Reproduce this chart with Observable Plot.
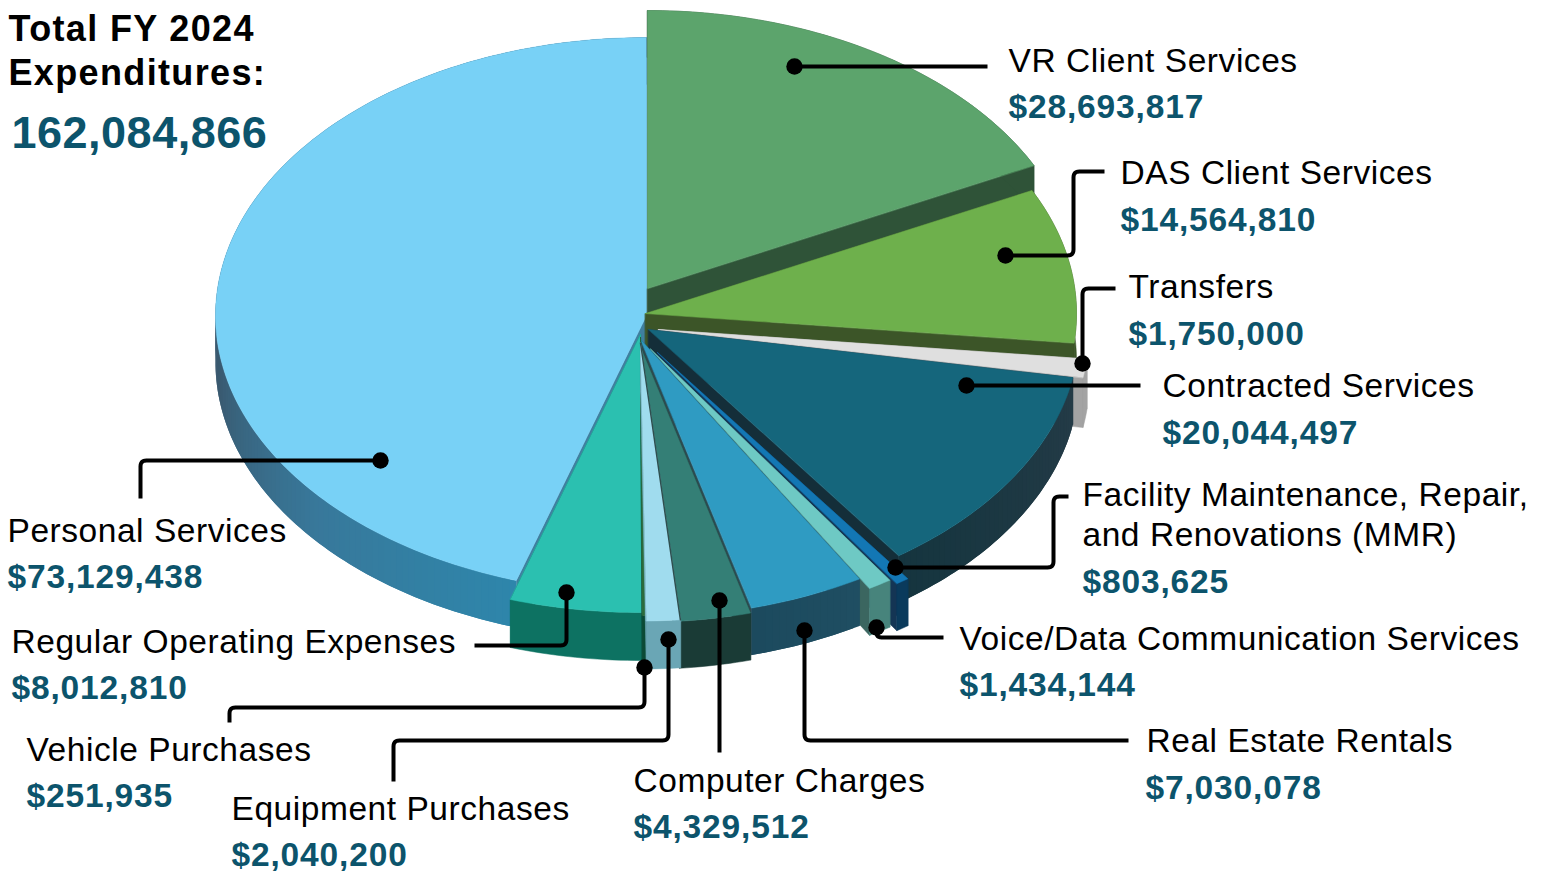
<!DOCTYPE html>
<html>
<head>
<meta charset="utf-8">
<script src="https://cdn.jsdelivr.net/npm/d3@7"></script>
<script src="https://cdn.jsdelivr.net/npm/@observablehq/plot@0.6"></script>
<style>
html,body{margin:0;padding:0;background:#fff;}
svg{display:block;}
.nm{letter-spacing:0.55px;}
.val{letter-spacing:0.85px;}
.ttl{letter-spacing:1.35px;}
.tot{letter-spacing:0.5px;}
</style>
</head>
<body>
<div id="chart"></div>
<script>
// Data: clockwise from 12 o'clock
const categories = ["VR Client Services","DAS Client Services","Transfers","Contracted Services","Facility Maintenance, Repair, and Renovations (MMR)","Voice/Data Communication Services","Real Estate Rentals","Computer Charges","Equipment Purchases","Vehicle Purchases","Regular Operating Expenses","Personal Services"];
const values = [28693817,14564810,1750000,20044497,803625,1434144,7030078,4329512,2040200,251935,8012810,73129438];
const titleLines = ["Total FY 2024","Expenditures:"];

// Styling of each slice (same order as categories)
const topColors = ["#5ca46c","#6eb04c","#dfdfdf","#15667c","#1377b4","#6ec9c4","#2f9bc2","#347f76","#a0dcee","#2c6b3c","#2bc0b0","#78d1f6"];
const wallStops = [["#2f5338"],["#3c5528"],["#a3a3a3"],["#243b47","#15353f"],["#0a3a5c"],["#47847c"],["#1f4e62","#1c4a5e"],["#1a3b36"],["#6aa6b5"],["#0b4a36"],["#0d7262"],["#2e86ab","#38789a","#3a5a70","#3a5a70","#3a5a70","#3a5a70"]];
const startWall = ["#2f5338","#3c5528","#a3a3a3","#243b47","#0a3a5c","#47847c","#1f4e62","#1a3b36","#6aa6b5","#0b4a36","#0d7262","#3f7f9f"];
const endWall = ["#2f5338","#3c5528","#a3a3a3","#142e39","#143554","#3b6660","#2d4a4e","#1a3b36","#6aa6b5","#0b4a36","#0d7262","#3f7f9f"];
const shiftX = [1,-1,12,2,11,4,-6,-7,-6,-6,-6,0];
const shiftY = [-27,-2,14,14,37,33.5,24,29,27.5,22,19,0];
const depths = [47,47,50,47,47,47,47,47,48,48,48,47];
const drawOrder = [11,0,1,2,3,4,5,6,7,10,9,8];
const pieCenter = [646,315], pieRadius = [431,278];

// Label layout
const nameLabels = [
  ["VR Client Services",1008,61],["DAS Client Services",1120,173],["Transfers",1128,287],["Contracted Services",1162,386],
  ["Facility Maintenance, Repair,",1082,495],["and Renovations (MMR)",1082,535],["Voice/Data Communication Services",959,639],
  ["Real Estate Rentals",1146,741],["Computer Charges",633,781],["Equipment Purchases",231,809],["Vehicle Purchases",26,750],
  ["Regular Operating Expenses",11,642],["Personal Services",7,531]];
const valueAnchors = [[1008,107],[1120,220],[1128,334],[1162,433],[1082,582],[959,685],[1145,788],[633,827],[231,855],[26,796],[11,688],[7,577]];
const leaders = [
  [[794,66],[987,66]],
  [[1005,255],[1073,255],[1073,171],[1104,171]],
  [[1082,363],[1082,288],[1115,288]],
  [[966,385],[1140,385]],
  [[895,567],[1053,567],[1053,496],[1068,496]],
  [[876,627],[876,637],[943,637]],
  [[804,630],[804,740],[1128,740]],
  [[719,600],[719,752]],
  [[668,639],[668,740],[393,740],[393,781]],
  [[644,667],[644,707],[229,707],[229,722]],
  [[566,592],[566,645],[474,645]],
  [[380,460],[140,460],[140,498]]
];

const total = d3.sum(values);
const money = d3.format("$,");
const ends = d3.cumsum(values).map(v => v / total * 360);
const starts = ends.map((e, i) => i ? ends[i - 1] : 0);
const rad = Math.PI / 180;
const rim = (t, i, drop = 0) => ({
  x: pieCenter[0] + shiftX[i] + pieRadius[0] * Math.sin(t * rad),
  y: pieCenter[1] + shiftY[i] + drop - pieRadius[1] * Math.cos(t * rad)
});
const hub = (i, drop = 0) => ({x: pieCenter[0] + shiftX[i], y: pieCenter[1] + shiftY[i] + drop});
const arc = (a, b, n) => d3.range(n + 1).map(k => a + (b - a) * k / n);

function sliceMarks(i) {
  const a = starts[i], b = ends[i], d = depths[i];
  const n = Math.max(2, Math.ceil(b - a));
  const ring = arc(a, b, n);
  const poly = (pts, c, sw = 0.5) => Plot.line(pts, {x: "x", y: "y", fill: c, stroke: sw ? c : "none", strokeWidth: sw, curve: "linear-closed"});
  const marks = [];
  // radial walls
  marks.push(poly([hub(i), rim(a, i), rim(a, i, d), hub(i, d)], startWall[i]));
  marks.push(poly([hub(i), rim(b, i), rim(b, i, d), hub(i, d)], endWall[i]));
  // outer wall
  const stops = wallStops[i];
  if (stops.length === 1) {
    marks.push(poly([...ring.map(t => rim(t, i)), ...ring.slice().reverse().map(t => rim(t, i, d))], stops[0]));
  } else {
    // facets painted over each other, so the shade changes around the rim without seams
    const shade = d3.piecewise(d3.interpolateRgb, stops);
    for (let k = 0; k < n; k++) {
      const tail = ring.slice(k, Math.min(k + 3, n + 1));
      marks.push(poly([...tail.map(t => rim(t, i)), ...tail.slice().reverse().map(t => rim(t, i, d))], shade((k + 0.5) / n), 0));
    }
  }
  // top face
  marks.push(poly([hub(i), ...ring.map(t => rim(t, i))], topColors[i]));
  return marks;
}

function rounded(pts, r = 6) {
  const out = [pts[0]];
  for (let j = 1; j < pts.length - 1; j++) {
    const [p, q, s] = [pts[j - 1], pts[j], pts[j + 1]];
    const l1 = Math.hypot(q[0] - p[0], q[1] - p[1]), l2 = Math.hypot(s[0] - q[0], s[1] - q[1]);
    const rr = Math.min(r, l1 / 2, l2 / 2);
    const A = [q[0] + (p[0] - q[0]) * rr / l1, q[1] + (p[1] - q[1]) * rr / l1];
    const B = [q[0] + (s[0] - q[0]) * rr / l2, q[1] + (s[1] - q[1]) * rr / l2];
    for (let u = 0; u <= 6; u++) {
      const w = u / 6;
      out.push([(1-w)*(1-w)*A[0] + 2*w*(1-w)*q[0] + w*w*B[0], (1-w)*(1-w)*A[1] + 2*w*(1-w)*q[1] + w*w*B[1]]);
    }
  }
  out.push(pts[pts.length - 1]);
  return out;
}

const sans = "'Liberation Sans', Arial, sans-serif";
const teal = "#0c546c";
const equipmentEdge = [hub(8), rim(starts[8], 8)];

const chart = Plot.plot({
  width: 1544, height: 872, margin: 0,
  x: {domain: [0, 1544], range: [0, 1544], axis: null},
  y: {domain: [0, 872], range: [0, 872], axis: null},
  style: {background: "#fff"},
  marks: [
    ...drawOrder.flatMap(sliceMarks),
    Plot.line(equipmentEdge, {x: "x", y: "y", stroke: "#2f4f4f", strokeWidth: 1.5}),
    ...leaders.map(l => Plot.line(rounded(l), {x: d => d[0], y: d => d[1], stroke: "#000", strokeWidth: 4, strokeLinecap: "butt"})),
    Plot.dot(leaders.map(l => l[0]), {x: d => d[0], y: d => d[1], r: 8.2, fill: "#000", stroke: null}),
    Plot.text(nameLabels, {x: d => d[1], y: d => d[2], text: d => d[0], textAnchor: "start", fontFamily: sans, fontSize: 33.5, fill: "#000", className: "nm"}),
    Plot.text(values, {x: (d, i) => valueAnchors[i][0], y: (d, i) => valueAnchors[i][1], text: d => money(d), textAnchor: "start", fontFamily: sans, fontSize: 33.5, fontWeight: 700, fill: teal, className: "val"}),
    Plot.text(titleLines, {x: () => 8, y: (d, i) => [29, 73][i], text: d => d, textAnchor: "start", fontFamily: sans, fontSize: 36, fontWeight: 700, fill: "#000", className: "ttl"}),
    Plot.text([total], {x: () => 11, y: () => 133, text: d => d3.format(",")(d), textAnchor: "start", fontFamily: sans, fontSize: 45, fontWeight: 700, fill: teal, className: "tot"})
  ]
});
document.getElementById("chart").appendChild(chart);
</script>
</body>
</html>
